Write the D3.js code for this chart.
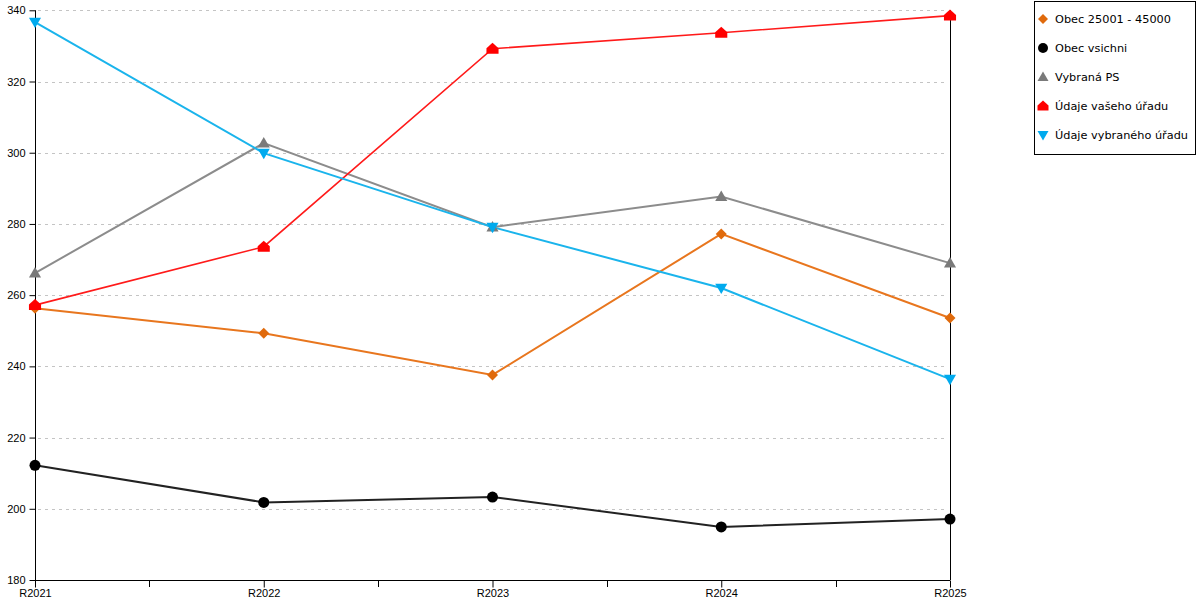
<!DOCTYPE html>
<html>
<head>
<meta charset="utf-8">
<script src="https://cdn.jsdelivr.net/npm/d3@7"></script>
<style>
  body { margin: 0; background: #fff; }
  svg { font-family: "DejaVu Sans", sans-serif; }
</style>
</head>
<body>
<svg width="1200" height="600"></svg>
<script>
const years = ["R2021", "R2022", "R2023", "R2024", "R2025"];
const yTicks = [180, 200, 220, 240, 260, 280, 300, 320, 340];

const obec25001 = [256.3, 249.3, 237.6, 277.2, 253.6];
const obecVsichni = [212.2, 201.8, 203.3, 194.9, 197.1];
const vybranaPS = [266.2, 302.7, 279.1, 287.7, 269.0];
const vasUrad = [257.2, 273.6, 329.2, 333.7, 338.5];
const vybranyUrad = [336.7, 299.9, 279.1, 262.0, 236.4];

const series = [
  { name: "Obec 25001 - 45000", values: obec25001, color: "#e8761e", marker: "#e06a0c", shape: "diamond", width: 2 },
  { name: "Obec vsichni", values: obecVsichni, color: "#222222", marker: "#000000", shape: "circle", width: 2 },
  { name: "Vybraná PS", values: vybranaPS, color: "#8c8c8c", marker: "#7a7a7a", shape: "up", width: 2 },
  { name: "Údaje vašeho úřadu", values: vasUrad, color: "#ff1a1a", marker: "#ff0000", shape: "house", width: 1.6 },
  { name: "Údaje vybraného úřadu", values: vybranyUrad, color: "#1ab4ec", marker: "#00aaee", shape: "down", width: 2 }
];

const plotLeft = 35, plotRight = 950, plotTop = 10.3, plotBottom = 580;

const svg = d3.select("svg");

const x = d3.scalePoint().domain(years).range([plotLeft, plotRight]);
const y = d3.scaleLinear().domain([180, 340]).range([plotBottom, plotTop]);

// Grid
svg.append("g")
  .selectAll("line")
  .data(yTicks.filter(t => t > 180))
  .enter()
  .append("line")
  .attr("x1", plotLeft + 3).attr("x2", plotRight - 3)
  .attr("y1", d => Math.round(y(d)) + 0.5)
  .attr("y2", d => Math.round(y(d)) + 0.5)
  .attr("stroke", "#c4c4c4")
  .attr("stroke-dasharray", "3,4");

// Y axis
const yAxis = svg.append("g")
  .attr("transform", `translate(${plotLeft + 0.5},0)`)
  .call(d3.axisLeft(y).tickValues(yTicks).tickSize(6).tickPadding(4));
yAxis.selectAll("text").style("font-size", "11px").attr("fill", "#000");
yAxis.select(".domain").attr("d", `M0,${plotTop}V${plotBottom}`);

// X axis
const xAxis = svg.append("g")
  .attr("transform", `translate(0,${plotBottom + 0.5})`)
  .call(d3.axisBottom(x).tickSize(7).tickPadding(2));
xAxis.selectAll("text").style("font-size", "11px").attr("fill", "#000");
xAxis.select(".domain").attr("d", `M${plotLeft},0H${plotRight}`);

// minor ticks between categories
const mids = years.slice(1).map((d, i) => (x(years[i]) + x(d)) / 2);
svg.append("g")
  .selectAll("line")
  .data(mids)
  .enter()
  .append("line")
  .attr("x1", d => Math.round(d) + 0.5).attr("x2", d => Math.round(d) + 0.5)
  .attr("y1", plotBottom).attr("y2", plotBottom + 7)
  .attr("stroke", "#000");

// right border
svg.append("line")
  .attr("x1", plotRight + 0.5).attr("x2", plotRight + 0.5)
  .attr("y1", plotTop).attr("y2", plotBottom)
  .attr("stroke", "#000");

function markerPath(shape, s) {
  switch (shape) {
    case "diamond": return `M0,${-s}L${s},0L0,${s}L${-s},0Z`;
    case "up": return `M0,${-s * 1.1}L${s * 1.1},${s * 0.8}L${-s * 1.1},${s * 0.8}Z`;
    case "down": return `M0,${s * 1.1}L${s * 1.1},${-s * 0.8}L${-s * 1.1},${-s * 0.8}Z`;
    case "house": return `M0,${-s * 1.1}L${s * 1.1},${-s * 0.1}L${s * 1.1},${s * 0.9}L${-s * 1.1},${s * 0.9}L${-s * 1.1},${-s * 0.1}Z`;
    default: return d3.symbol(d3.symbolCircle, Math.PI * s * s)();
  }
}

const line = d3.line()
  .x((d, i) => x(years[i]))
  .y(d => y(d));

series.forEach(s => {
  svg.append("path")
    .datum(s.values)
    .attr("fill", "none")
    .attr("stroke", s.color)
    .attr("stroke-width", s.width)
    .attr("d", line);
});

series.forEach(s => {
  svg.append("g")
    .selectAll("path")
    .data(s.values)
    .enter()
    .append("path")
    .attr("transform", (d, i) => `translate(${x(years[i])},${y(d)})`)
    .attr("d", markerPath(s.shape, 5.5))
    .attr("fill", s.marker);
});

// Legend
const legend = svg.append("g");
legend.append("rect")
  .attr("x", 1034.5).attr("y", 1.5)
  .attr("width", 161).attr("height", 153)
  .attr("fill", "#fff").attr("stroke", "#000");

const items = legend.selectAll("g.item")
  .data(series)
  .enter()
  .append("g")
  .attr("transform", (d, i) => `translate(1043,${19 + i * 29})`);

items.append("path")
  .attr("d", d => markerPath(d.shape, 5))
  .attr("fill", d => d.marker);

items.append("text")
  .attr("x", 12)
  .attr("dy", "0.35em")
  .style("font-size", "11.3px")
  .attr("fill", "#000")
  .text(d => d.name);
</script>
</body>
</html>
